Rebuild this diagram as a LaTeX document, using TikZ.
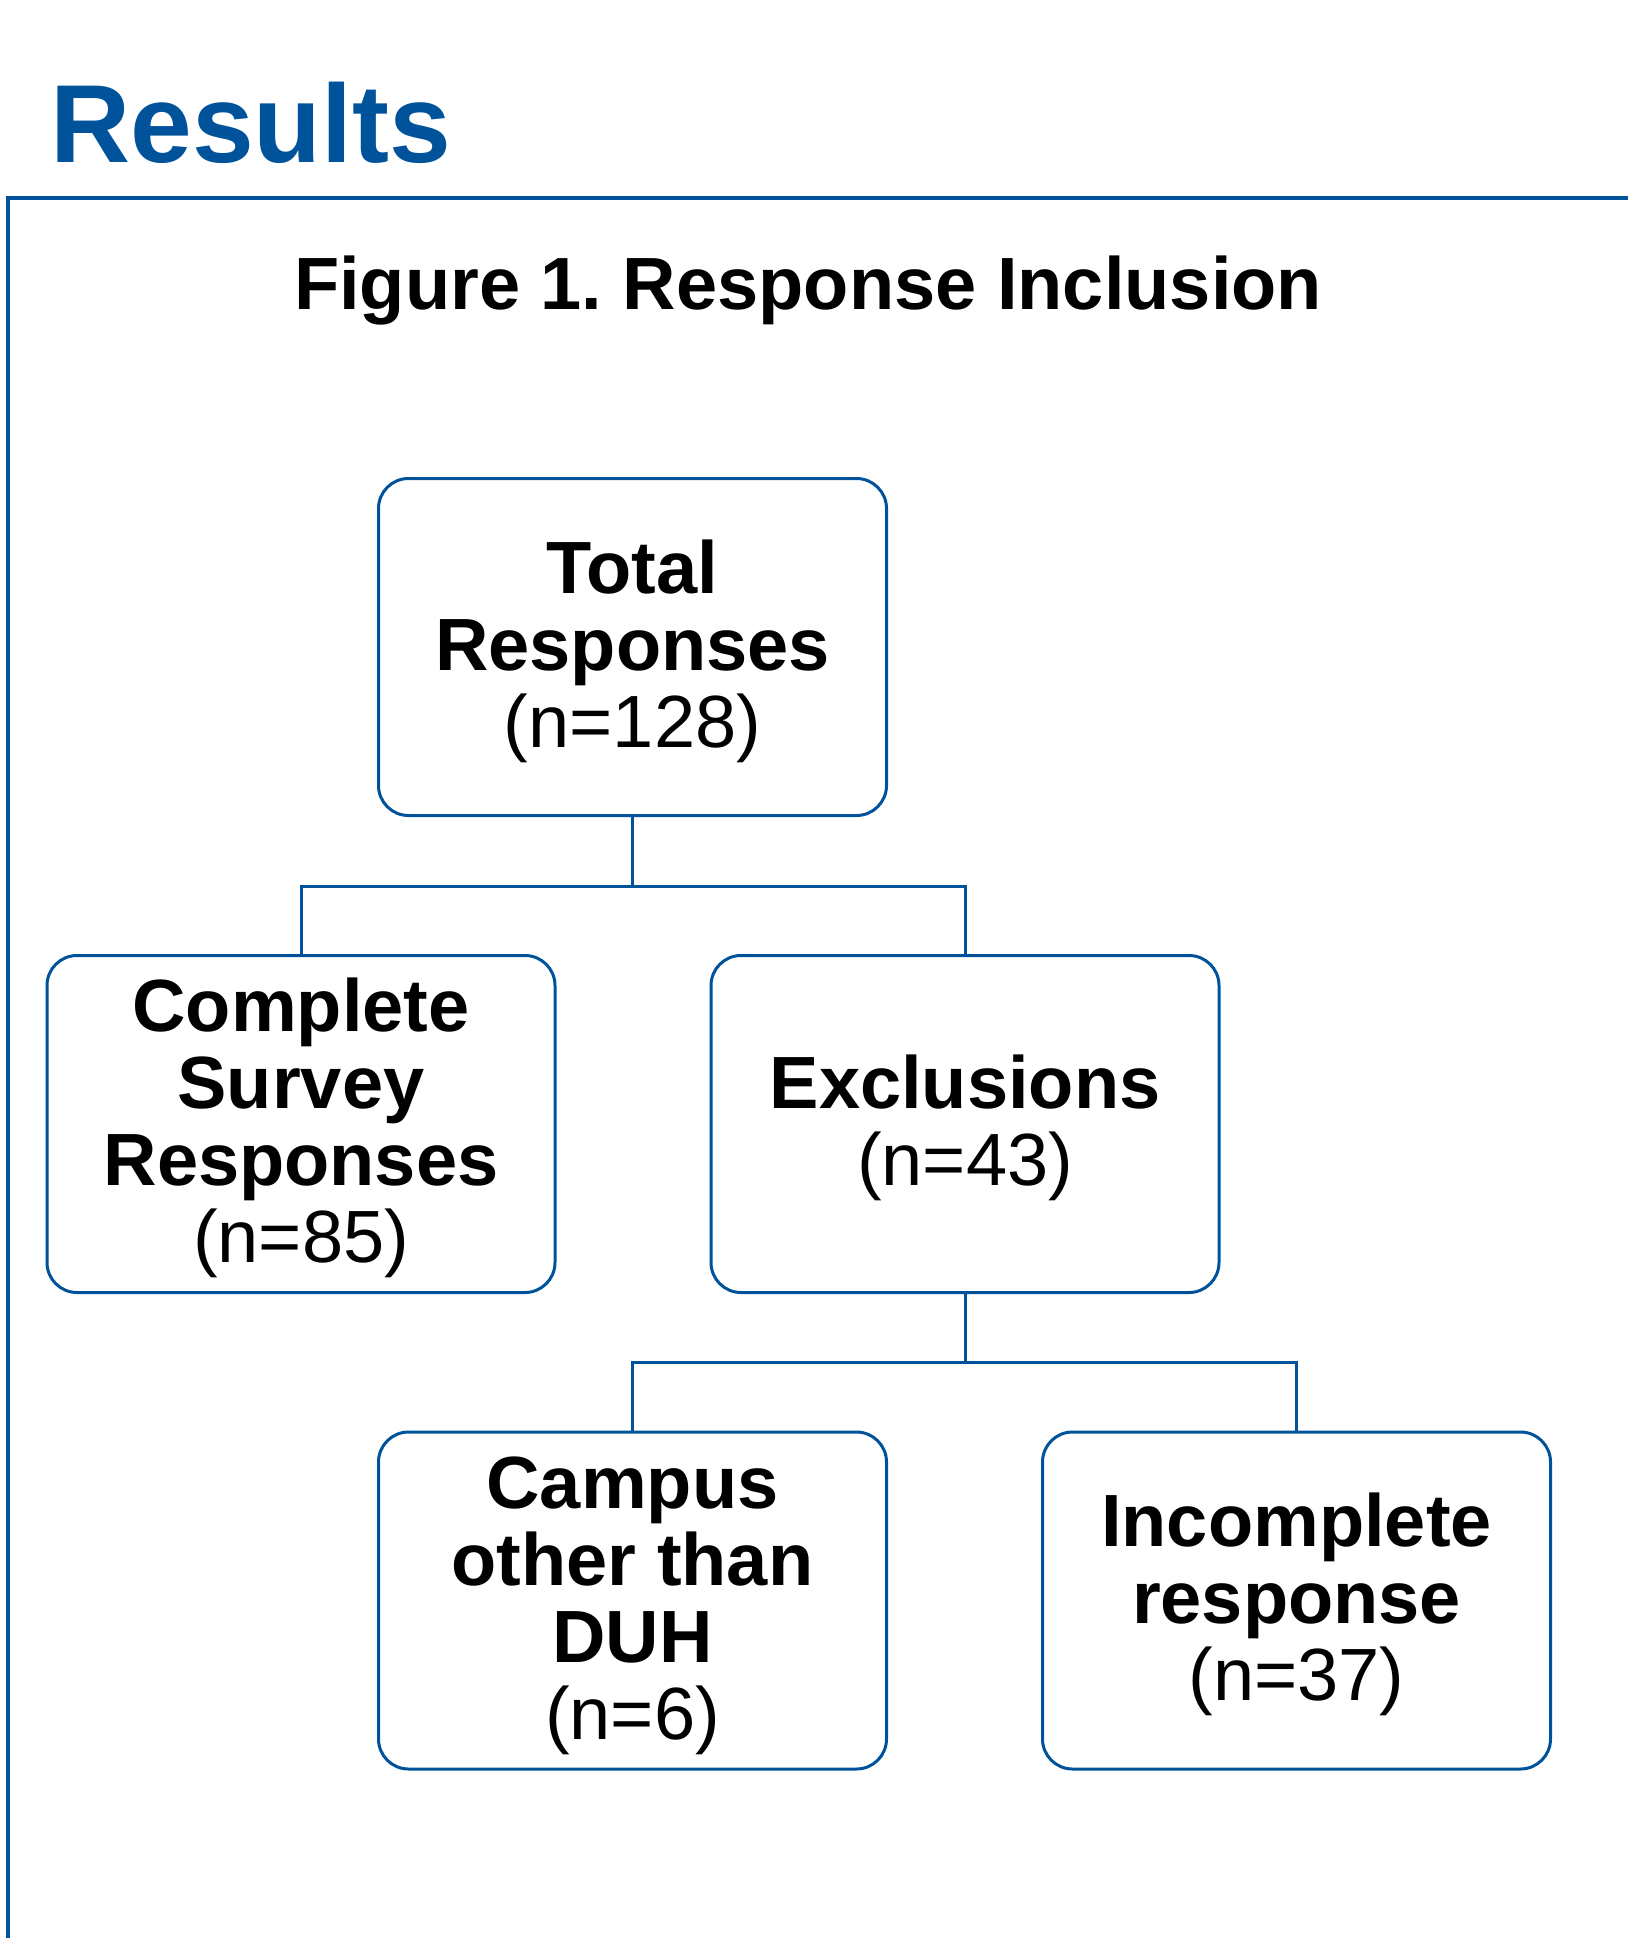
\documentclass[tikz,border=0pt]{standalone}
\usepackage{fontspec}
\setmainfont{Liberation Sans}
\frenchspacing
\definecolor{dukeblue}{RGB}{0,83,155}
\newcommand{\tallstrut}{\rule{0pt}{62pt}}
\begin{document}
\begin{tikzpicture}[x=1pt,y=-1pt,
  box/.style={draw=dukeblue, line width=3pt, rounded corners=30pt,
    minimum width=508pt, minimum height=337pt, align=center, inner sep=0pt,
    font=\fontsize{74}{77}\selectfont\bfseries},
  conn/.style={draw=dukeblue, line width=3pt},
  frameline/.style={draw=dukeblue, line width=4pt}]
\useasboundingbox (0,0) rectangle (1628,1938);
\fill[white] (0,0) rectangle (1628,1938);
\draw[frameline] (1628,198) -- (8,198) -- (8,1938);
\node[anchor=base west, inner sep=0pt, text=dukeblue, font=\fontsize{111}{120}\selectfont\bfseries] (results) at (50,162) {Results};
\node[anchor=base, inner sep=0pt, font=\fontsize{74}{77}\selectfont\bfseries] (title) at (808,309) {Figure 1. Response Inclusion};
\node[box] (total) at (632.5,647) {\tallstrut Total\\Responses\\\mdseries (n=128)};
\node[box] (complete) at (301,1124) {\tallstrut Complete\\Survey\\Responses\\\mdseries (n=85)};
\node[box] (excl) at (965,1124) {\tallstrut Exclusions\\\mdseries (n=43)};
\node[box] (campus) at (632.5,1600.5) {\tallstrut Campus\\other than\\DUH\\\mdseries (n=6)};
\node[box] (incompl) at (1296.5,1600.5) {\tallstrut Incomplete\\response\\\mdseries (n=37)};
\coordinate (j1) at (632.5,886);
\coordinate (j2) at (965,1362);
\draw[conn] (total.south) -- (j1);
\draw[conn] (complete.north) |- (j1) -| (excl.north);
\draw[conn] (excl.south) -- (j2);
\draw[conn] (campus.north) |- (j2) -| (incompl.north);
\end{tikzpicture}
\end{document}
